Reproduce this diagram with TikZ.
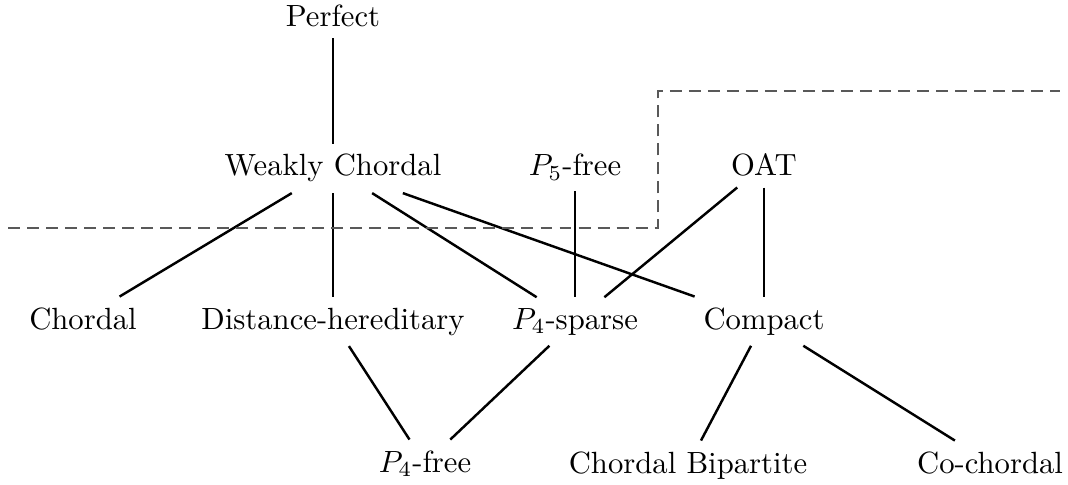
\documentclass[tikz,border=0pt]{standalone}
\usetikzlibrary{calc}
\begin{document}
\begin{tikzpicture}[x=0.326pt,y=-0.326pt,
  cls/.style={anchor=base, inner sep=3.33pt},
  link/.style={line width=0.8pt},
  region/.style={line width=0.5pt, draw=black!65, dash pattern=on 3.9pt off 2.3pt}]
\useasboundingbox (0,0) rectangle (1068,485);
% nodes (placed by baseline)
\node[cls] (perf) at (333,27) {Perfect};
\node[cls] (wc) at (333,176) {Weakly Chordal};
\node[cls] (p5) at (575,176) {$P_5$-free};
\node[cls] (oat) at (764,176) {OAT};
\node[cls] (ch) at (83,329) {Chordal};
\node[cls] (dh) at (333,329) {Distance-hereditary};
\node[cls] (p4s) at (575,329) {$P_4$-sparse};
\node[cls] (cp) at (764,329) {Compact};
\node[cls] (p4f) at (425,472) {$P_4$-free};
\node[cls] (cb) at (688,473) {Chordal Bipartite};
\node[cls] (cc) at (990,473) {Co-chordal};
% connectors
\draw[link] (perf) -- (wc);
\draw[link] (wc) -- (ch);
\draw[link] (wc) -- (dh);
\draw[link] (wc) -- (p4s);
\draw[link] (wc) -- (cp);
\draw[link] (p5) -- (p4s);
\draw[link] (oat) -- (p4s);
\draw[link] (oat) -- (cp);
\draw[link] (dh) -- (p4f);
\draw[link] (p4s) -- (p4f);
\draw[link] (cp) -- (cb);
\draw[link] (cp) -- (cc);
% dashed boundary
\draw[region] (8,228) -- (658,228) -- (658,91) -- (1060,91);
\end{tikzpicture}
\end{document}
